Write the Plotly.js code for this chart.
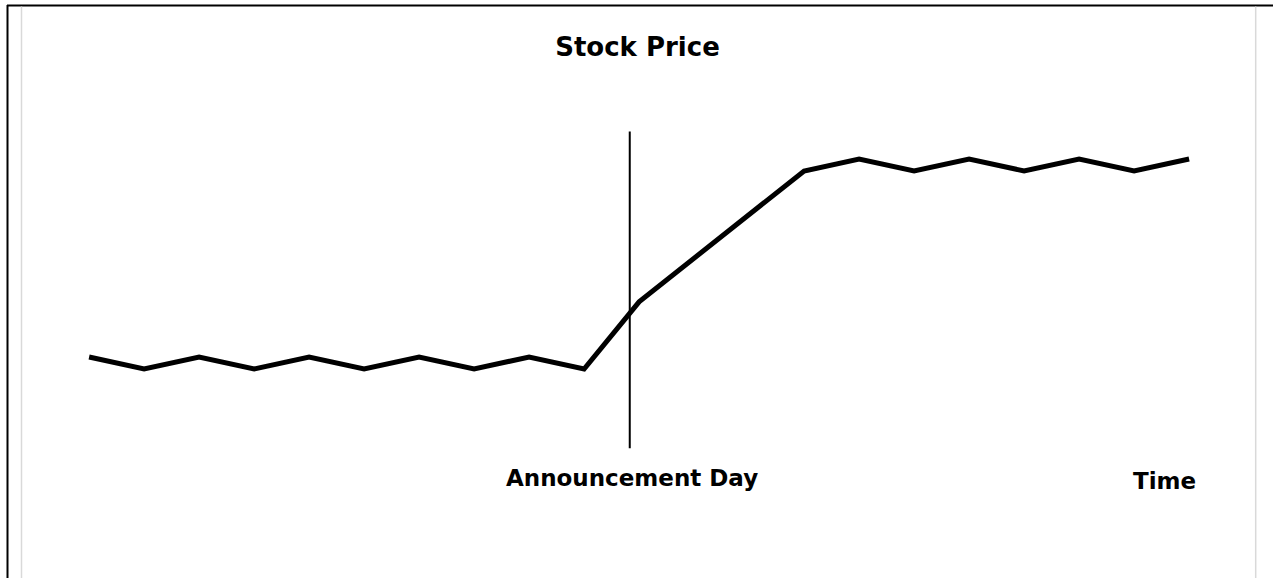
<!DOCTYPE html>
<html>
<head>
<meta charset="utf-8">
<script src="https://cdn.plot.ly/plotly-3.0.1.min.js"></script>
<style>html,body{margin:0;padding:0;background:#fff;}#chart{width:1273px;height:578px;}</style>
</head>
<body>
<div id="chart"></div>
<script>
// Time steps (arbitrary units)
var timeSteps = [0,1,2,3,4,5,6,7,8,9,10,11,12,13,14,15,16,17,18,19,20];
// Stock price (arbitrary units)
var stockPrice = [11,10,11,10,11,10,11,10,11,10,15.6,19.2,22.9,26.5,27.5,26.5,27.5,26.5,27.5,26.5,27.5];
// Announcement day marker
var announcementX = [9.83, 9.83];
var announcementY = [3.4, 29.8];
var titleText = "Stock Price";
var announcementLabel = "Announcement Day";
var timeLabel = "Time";

var W = 1273, H = 578;
function px(x){return x / W;}
function py(y){return 1 - y / H;}

var traces = [
  {x: timeSteps, y: stockPrice, mode: 'lines', line: {color: '#000', width: 5, shape: 'linear'}, hoverinfo: 'skip'},
  {x: announcementX, y: announcementY, mode: 'lines', line: {color: '#000', width: 2}, hoverinfo: 'skip'}
];

var fontFam = 'DejaVu Sans, sans-serif';
var layout = {
  width: W, height: H,
  margin: {l: 0, r: 0, t: 0, b: 0},
  paper_bgcolor: '#fff', plot_bgcolor: 'rgba(0,0,0,0)',
  showlegend: false,
  xaxis: {range: [-88/55 - 0.02, (W-88)/55 - 0.02], visible: false, fixedrange: true},
  yaxis: {range: [10 - (H-369)/12, 10 + 369/12], visible: false, fixedrange: true},
  title: {text: '<b>' + titleText + '</b>', x: px(637.5), xanchor: 'center', y: py(47), yanchor: 'middle',
          font: {family: fontFam, size: 26, color: '#000'}},
  annotations: [
    {text: '<b>' + announcementLabel + '</b>', xref: 'paper', yref: 'paper', x: px(631.5), y: py(478),
     xanchor: 'center', yanchor: 'middle', showarrow: false, font: {family: fontFam, size: 23, color: '#000'}},
    {text: '<b>' + timeLabel + '</b>', xref: 'paper', yref: 'paper', x: px(1164), y: py(481),
     xanchor: 'center', yanchor: 'middle', showarrow: false, font: {family: fontFam, size: 23, color: '#000'}}
  ],
  shapes: [
    {type: 'line', xref: 'paper', yref: 'paper', x0: px(7), x1: px(1273), y0: py(5.5), y1: py(5.5), line: {color: '#000', width: 2}},
    {type: 'line', xref: 'paper', yref: 'paper', x0: px(7.5), x1: px(7.5), y0: py(5), y1: py(578), line: {color: '#000', width: 2}},
    {type: 'line', xref: 'paper', yref: 'paper', x0: px(21.5), x1: px(21.5), y0: py(6.5), y1: py(578), line: {color: '#d9d9d9', width: 1.5}},
    {type: 'line', xref: 'paper', yref: 'paper', x0: px(1255.7), x1: px(1255.7), y0: py(6.5), y1: py(578), line: {color: '#d9d9d9', width: 1.5}}
  ]
};

Plotly.newPlot('chart', traces, layout, {displayModeBar: false, staticPlot: true});
</script>
</body>
</html>
